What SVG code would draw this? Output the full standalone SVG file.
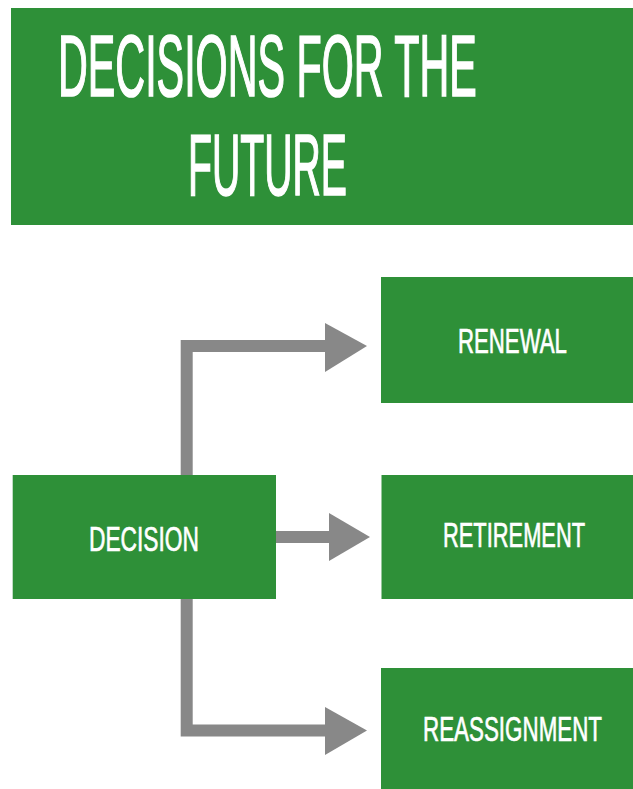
<svg xmlns="http://www.w3.org/2000/svg" width="633" height="789" viewBox="0 0 633 789">
  <defs>
    <style>
      .box { fill: #2E9038; }
      .label { fill: #FFFFFF; stroke: #FFFFFF; stroke-width: 0.6; stroke-linejoin: miter; font-family: "Liberation Sans", Arial, sans-serif; font-size: 36px; font-weight: 400; }
      .title { font-size: 88px; stroke-width: 1.3; }
      .wire { fill: none; stroke: #888888; stroke-width: 12; }
      .head { fill: #888888; }
    </style>
  </defs>
  <rect width="633" height="789" fill="#FFFFFF"/>

  <g id="title">
    <rect class="box" x="11" y="8" width="622" height="217"/>
    <!-- narrow lettering: horizontal squeeze of a regular face -->
    <text class="label title" vector-effect="non-scaling-stroke" transform="translate(58 95.5) scale(0.468 1)" textLength="895" lengthAdjust="spacingAndGlyphs">DECISIONS FOR THE</text>
    <text class="label title" vector-effect="non-scaling-stroke" transform="translate(188 195) scale(0.446 1)" textLength="356.5" lengthAdjust="spacingAndGlyphs">FUTURE</text>
  </g>

  <g id="connectors">
    <!-- up and over to Renewal -->
    <path class="wire" d="M186.7 475 V346 H328"/>
    <polygon class="head" points="325,323 367,346 325,372"/>
    <!-- straight across to Retirement -->
    <path class="wire" d="M276 537 H332"/>
    <polygon class="head" points="329,513 370,537 329,561"/>
    <!-- down and over to Reassignment -->
    <path class="wire" d="M186.7 599 V730.5 H328"/>
    <polygon class="head" points="325,707 367,730.5 325,755"/>
  </g>

  <g id="decision">
    <rect class="box" x="12.7" y="475" width="263.3" height="124"/>
    <text class="label" vector-effect="non-scaling-stroke" transform="translate(89 551) scale(0.632 1)" textLength="174" lengthAdjust="spacingAndGlyphs">DECISION</text>
  </g>

  <g id="renewal">
    <rect class="box" x="381" y="277" width="252" height="126"/>
    <text class="label" vector-effect="non-scaling-stroke" transform="translate(458 353) scale(0.612 1)" textLength="178" lengthAdjust="spacingAndGlyphs">RENEWAL</text>
  </g>

  <g id="retirement">
    <rect class="box" x="381.5" y="475" width="251.5" height="124"/>
    <text class="label" vector-effect="non-scaling-stroke" transform="translate(443 547) scale(0.607 1)" textLength="234" lengthAdjust="spacingAndGlyphs">RETIREMENT</text>
  </g>

  <g id="reassignment">
    <rect class="box" x="381" y="668" width="252" height="121"/>
    <text class="label" vector-effect="non-scaling-stroke" transform="translate(423 741) scale(0.622 1)" textLength="287.8" lengthAdjust="spacingAndGlyphs">REASSIGNMENT</text>
  </g>
</svg>
